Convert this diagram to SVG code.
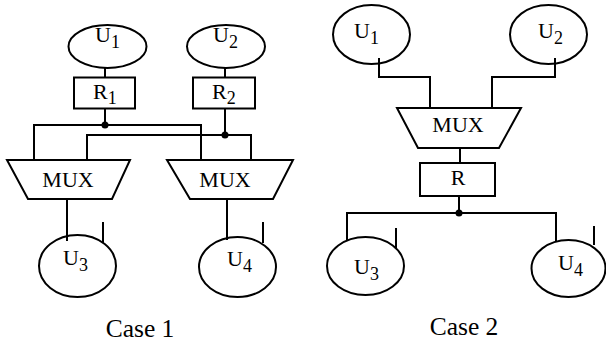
<svg xmlns="http://www.w3.org/2000/svg" width="606" height="345" viewBox="0 0 606 345">
<style>
.s{fill:none;stroke:#000;stroke-width:2}
.n{fill:#fff;stroke:#000;stroke-width:2}
.t{font-family:"Liberation Serif","Times New Roman",serif;font-size:22px;fill:#000}
.sub{font-size:18px}
.cap{font-family:"Liberation Serif","Times New Roman",serif;font-size:25.5px;fill:#000;text-anchor:middle}
.m{text-anchor:middle}
</style>
<rect width="606" height="345" fill="#fff"/>
<g id="connectors">
  <path class="s" d="M105 68V78M225 68V78"/>
  <path class="s" d="M105 108V125M34 160V125H201V160"/>
  <path class="s" d="M225 108V135M87 160V135H251V160"/>
  <path class="s" d="M67 199V241M103 222V243"/>
  <path class="s" d="M227 199V240M263 222V243"/>
  <circle cx="105" cy="125" r="3.5" fill="#000"/>
  <circle cx="225" cy="135" r="3.5" fill="#000"/>
  <path class="s" d="M379 58V77H430V108"/>
  <path class="s" d="M555 58V77H492V108"/>
  <path class="s" d="M460 148V163"/>
  <path class="s" d="M459 196V213M347 240V213H556V242"/>
  <path class="s" d="M396 228V249M594 226V245"/>
  <circle cx="459" cy="213" r="3.5" fill="#000"/>
</g>
<g id="c1_U1"><ellipse class="n" cx="107.5" cy="46.5" rx="39" ry="21.5"/><text class="t" x="95" y="42">U<tspan class="sub" dy="6">1</tspan></text></g>
<g id="c1_U2"><ellipse class="n" cx="226" cy="46.5" rx="39" ry="21.5"/><text class="t" x="213" y="42">U<tspan class="sub" dy="6">2</tspan></text></g>
<g id="c1_R1"><rect class="n" x="74" y="77.5" width="61" height="31"/><text class="t" x="93" y="99">R<tspan class="sub" dy="5">1</tspan></text></g>
<g id="c1_R2"><rect class="n" x="193" y="77.5" width="62" height="31"/><text class="t" x="212" y="99">R<tspan class="sub" dy="5">2</tspan></text></g>
<g id="c1_MUX1"><polygon class="n" points="7,160 130,160 112,199 28,199"/><text class="t m" x="68" y="187">MUX</text></g>
<g id="c1_MUX2"><polygon class="n" points="167,160 293,160 273,199 190,199"/><text class="t m" x="225" y="187">MUX</text></g>
<g id="c1_U3"><ellipse class="s" cx="77.5" cy="266" rx="38.5" ry="31"/><text class="t" x="63" y="265">U<tspan class="sub" dy="6">3</tspan></text></g>
<g id="c1_U4"><ellipse class="s" cx="237.5" cy="267" rx="38.5" ry="30"/><text class="t" x="227" y="266">U<tspan class="sub" dy="6">4</tspan></text></g>
<g id="c2_U1"><ellipse class="s" cx="371.5" cy="34.5" rx="38.5" ry="29.5"/><text class="t" x="354" y="38">U<tspan class="sub" dy="6">1</tspan></text></g>
<g id="c2_U2"><ellipse class="s" cx="548.5" cy="34.5" rx="38.5" ry="29.5"/><text class="t" x="538" y="38">U<tspan class="sub" dy="6">2</tspan></text></g>
<g id="c2_MUX"><polygon class="n" points="397,108 521,108 499,148 418,148"/><text class="t m" x="458" y="132">MUX</text></g>
<g id="c2_R"><rect class="n" x="420" y="163" width="75" height="33"/><text class="t m" x="458" y="185">R</text></g>
<g id="c2_U3"><ellipse class="s" cx="365.5" cy="266" rx="38.5" ry="29"/><text class="t" x="354" y="274">U<tspan class="sub" dy="6">3</tspan></text></g>
<g id="c2_U4"><ellipse class="s" cx="568.5" cy="268.5" rx="37" ry="28.5"/><text class="t" x="558" y="270">U<tspan class="sub" dy="6">4</tspan></text></g>
<text class="cap" x="140" y="337">Case 1</text>
<text class="cap" x="464" y="335">Case 2</text>
</svg>
